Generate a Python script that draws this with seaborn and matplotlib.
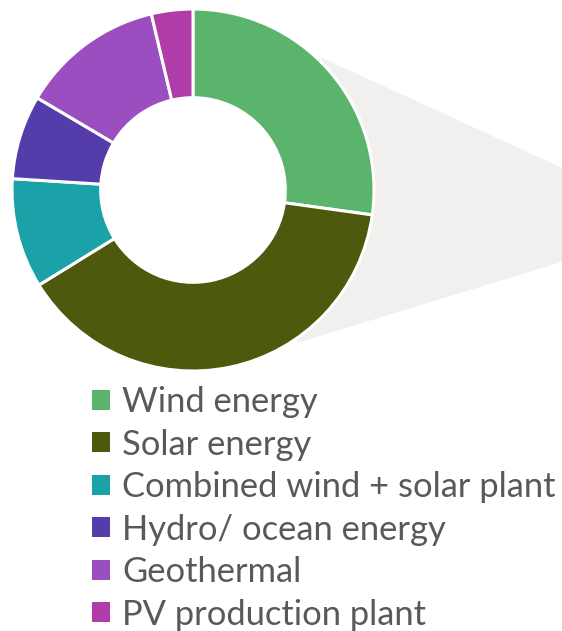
import matplotlib
matplotlib.use("Agg")
import matplotlib.pyplot as plt
from matplotlib.patches import Polygon, Patch
import seaborn as sns

# Project count share by renewable technology (percent)
categories = ["Wind energy", "Solar energy", "Combined wind + solar plant",
              "Hydro/ ocean energy", "Geothermal", "PV production plant"]
shares = [27.2, 39.0, 9.8, 7.5, 12.8, 3.7]
colors = ["#5ab46c", "#4d5a0e", "#1ba2a8", "#553cab", "#9a4ec0", "#b03da7"]

sns.set_theme(style="white")
plt.rcParams["font.family"] = ["Lato", "DejaVu Sans"]

W, H = 562, 631
fig = plt.figure(figsize=(W / 100, H / 100), dpi=100)
ax = fig.add_axes([0, 0, 1, 1])

# grey fan linking the donut to the (off-canvas) detail chart
fan = Polygon([(0.8, 0.0), (0.706, 0.733), (2.1, 0.094), (2.1, -0.378), (0.578, -0.844)],
              closed=True, facecolor="#f1f0ef", edgecolor="none", zorder=0)
ax.add_patch(fan)

ax.pie(shares, colors=colors, startangle=90, counterclock=False, radius=1.0,
       wedgeprops=dict(width=0.49, edgecolor="white", linewidth=2.2),
       normalize=True)

# donut centre and radius in pixel terms, axes in units of the radius
cx, cy, R = 193, 190, 181
ax.set_xlim(-cx / R, (W - cx) / R)
ax.set_ylim(-(H - cy) / R, cy / R)
ax.set_aspect("equal")
ax.axis("off")

handles = [Patch(facecolor=c, edgecolor="none") for c in colors]
leg = fig.legend(handles, categories, loc="upper left",
                 bbox_to_anchor=(92 / W, 1 - 386 / H), frameon=False,
                 fontsize=24.8, handlelength=0.52, handleheight=0.52,
                 handletextpad=0.36, labelspacing=0.305, borderpad=0,
                 borderaxespad=0)
for t in leg.get_texts():
    t.set_color("#595959")

fig.savefig("out.png", dpi=100)
